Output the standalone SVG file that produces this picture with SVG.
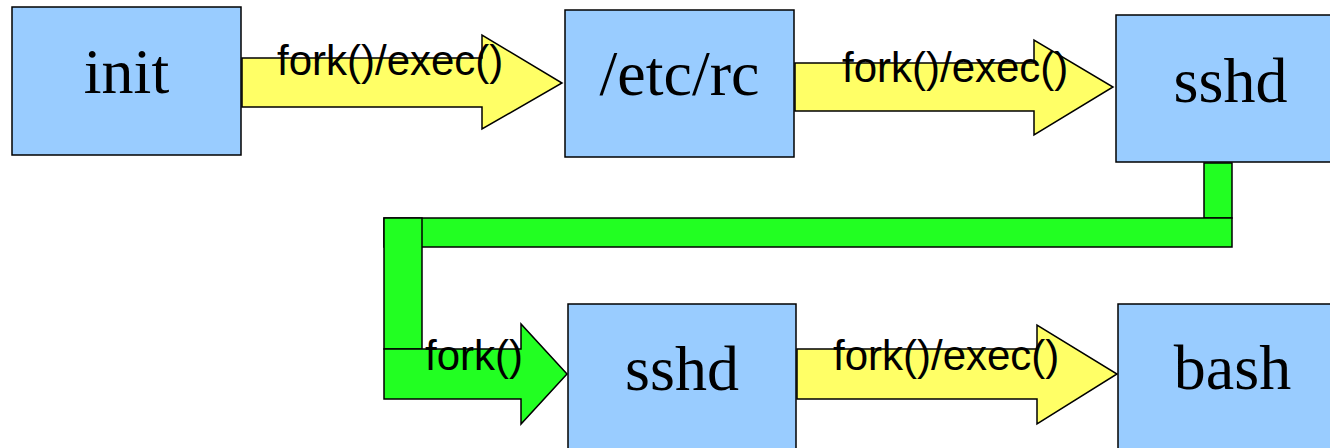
<svg xmlns="http://www.w3.org/2000/svg" width="1330" height="448" viewBox="0 0 1330 448">
<style>
.box{fill:#99ccff;stroke:#000;stroke-width:1.5}
.nl{font-family:"Liberation Serif","Times New Roman",serif;font-size:64px;fill:#000;text-anchor:middle}
.ya{fill:#ffff66;stroke:#000;stroke-width:1.5;stroke-linejoin:miter}
.ga{fill:#22ff22;stroke:#000;stroke-width:1.5;stroke-linejoin:miter}
.el{font-family:"Liberation Sans",Arial,sans-serif;font-size:42px;fill:#000}
</style>
<rect width="1330" height="448" fill="#fff"/>
<g id="connectors">
<g id="c1"><polygon class="ya" points="242,58 482,58 482,35 562,83 482,129 482,107 242,107"/><text class="el" x="277" y="75">fork()/exec()</text></g>
<g id="c2"><polygon class="ya" points="795,63 1034,63 1034,40 1113,87 1034,135 1034,111 795,111"/><text class="el" x="842" y="82">fork()/exec()</text></g>
<g id="c3">
<rect class="ga" x="1204" y="163" width="28" height="55"/>
<rect class="ga" x="384" y="218" width="848" height="29"/>
<rect class="ga" x="384" y="218" width="38" height="131"/>
<polygon class="ga" points="384,349 521,349 521,324 567,374 521,424 521,399 384,399"/>
<text class="el" x="425" y="370">fork()</text>
</g>
<g id="c4"><polygon class="ya" points="797,349 1037,349 1037,325 1117,374 1037,424 1037,399 797,399"/><text class="el" x="833" y="370">fork()/exec()</text></g>
</g>
<g id="init"><rect class="box" x="12" y="7" width="229" height="148"/><text class="nl" x="126.5" y="93">init</text></g>
<g id="etcrc"><rect class="box" x="565" y="10" width="229" height="147"/><text class="nl" x="679.5" y="95">/etc/rc</text></g>
<g id="sshd1"><rect class="box" x="1116" y="15" width="229" height="147"/><text class="nl" x="1230.5" y="102">sshd</text></g>
<g id="sshd2"><rect class="box" x="568" y="304" width="228" height="160"/><text class="nl" x="682" y="390">sshd</text></g>
<g id="bash"><rect class="box" x="1118" y="304" width="229" height="160"/><text class="nl" x="1232.5" y="389">bash</text></g>
</svg>
